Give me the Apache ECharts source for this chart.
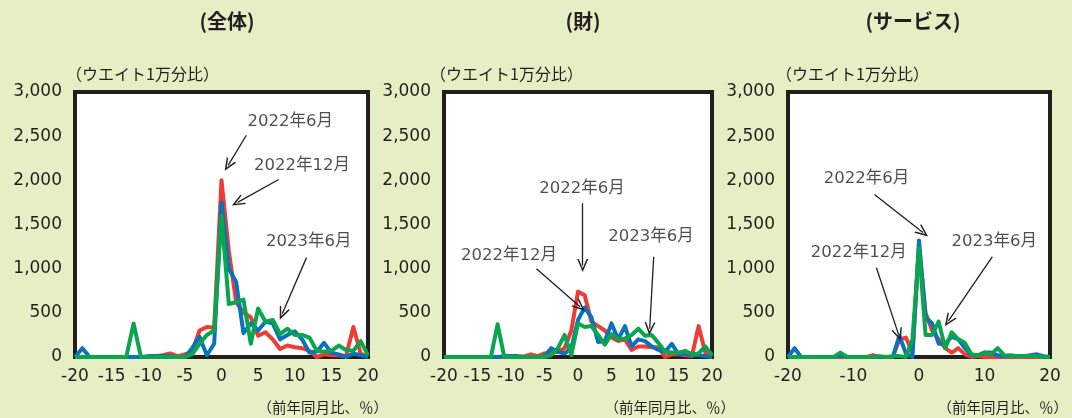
<!DOCTYPE html>
<html>
<head>
<meta charset="utf-8">
<script src="https://cdn.jsdelivr.net/npm/echarts@6/dist/echarts.min.js"></script>
<style>
  html, body { margin: 0; padding: 0; background: #e6efc4; }
  #main { width: 1072px; height: 418px; }
</style>
</head>
<body>
<div id="main"></div>
<script>
// 前年同月比（%）
var xs = [-20,-19,-18,-17,-16,-15,-14,-13,-12,-11,-10,-9,-8,-7,-6,-5,-4,-3,-2,-1,0,
          1,2,3,4,5,6,7,8,9,10,11,12,13,14,15,16,17,18,19,20];

// 全体
var allJun22 = [0,0,0,0,0,0,0,0,0,0,0,10,20,40,10,30,60,300,340,330,2000,
                1200,620,500,450,240,280,200,90,130,110,100,70,0,30,20,20,10,340,40,0];
var allDec22 = [0,100,0,0,0,0,0,0,0,0,10,10,10,10,0,0,100,230,20,150,1750,
                1000,850,270,380,300,400,380,200,250,290,200,50,60,160,50,30,0,40,20,0];
var allJun23 = [0,0,0,0,0,0,0,0,380,0,0,0,0,0,0,0,30,150,250,300,1600,
                600,620,650,150,550,400,420,260,320,250,250,220,70,60,70,130,80,70,180,20];
// 財
var goodsJun22 = [0,0,0,0,0,0,0,0,0,0,0,0,10,30,10,40,50,60,100,300,740,
                  700,400,350,300,220,180,200,80,120,120,110,110,0,30,30,20,10,350,50,0];
var goodsDec22 = [0,0,0,0,0,0,0,0,0,10,10,10,0,0,0,10,100,60,40,100,420,
                  560,450,170,180,380,200,350,120,200,180,120,80,60,150,30,40,20,20,10,0];
var goodsJun23 = [0,0,0,0,0,0,0,0,370,0,0,0,0,0,0,0,20,100,250,20,380,
                  340,350,250,140,260,200,210,250,320,240,250,160,60,50,50,70,30,40,120,20];
// サービス
var servJun22 = [0,0,0,0,0,0,0,0,0,0,0,0,0,20,0,0,0,200,220,50,1250,
                 500,300,200,100,50,100,30,0,10,0,0,0,0,0,0,0,0,0,0,0];
var servDec22 = [0,100,0,0,0,0,0,0,20,0,0,0,0,0,0,0,0,240,40,0,1320,
                 450,380,150,150,230,200,100,20,20,50,50,20,10,20,10,10,20,30,10,0];
var servJun23 = [0,0,0,0,0,0,0,0,50,0,0,0,0,0,10,0,10,10,0,200,1230,
                 250,250,400,100,280,200,160,30,20,50,30,100,20,10,10,10,10,10,0,0];

var yTicks = [0, 500, 1000, 1500, 2000, 2500, 3000];

// 注記（テキスト位置と矢印はデータ座標）
var notes = [
  [ {t:'2022年6月',  p:[9.4, 2660], a:[[3.4, 2510],[0.9, 2170]]},
    {t:'2022年12月', p:[11.0, 2170], a:[[7.8, 2010],[2.2, 1750]]},
    {t:'2023年6月',  p:[11.9, 1300], a:[[11.6, 1125],[8.3, 490]]} ],
  [ {t:'2022年6月',  p:[0.6, 1900], a:[[0.7, 1740],[0.7, 1035]]},
    {t:'2022年12月', p:[-10.3, 1150], a:[[-6.2, 1000],[0.3, 570]]},
    {t:'2023年6月',  p:[10.9, 1360], a:[[11.3, 1135],[10.7, 320]]} ],
  [ {t:'2022年6月',  p:[-8.0, 2020], a:[[-6.8, 1840],[0.6, 1410]]},
    {t:'2022年12月', p:[-9.2, 1180], a:[[-6.5, 1010],[-3.1, 250]]},
    {t:'2023年6月',  p:[11.5, 1300], a:[[11.2, 1135],[4.5, 410]]} ]
];

var panels = [
  {title:'(全体)', cx:227, grid:{left:75, right:704}, step:5, lines:[allJun22, allDec22, allJun23], sub:66, unit:388},
  {title:'(財)', cx:583, grid:{left:444, right:360}, step:5, lines:[goodsJun22, goodsDec22, goodsJun23], sub:430, unit:735},
  {title:'(サービス)', cx:913, grid:{left:788, right:22}, step:10, lines:[servJun22, servDec22, servJun23], sub:776, unit:1068}
];

var colors = ['#ee3b33', '#0a72bd', '#0aa64e'];
var ink = '#231f20';
var font = '"Noto Sans CJK JP", "Noto Sans", sans-serif';
var numFont = '"DejaVu Sans", "Noto Sans CJK JP", sans-serif';
var arrowHead = 'path://M5,0 L10,12 L8.6,12 L5,3.6 L1.4,12 L0,12 Z';

var grids = [], xAxes = [], yAxes = [], series = [], graphics = [];

panels.forEach(function (pn, i) {
  grids.push({
    left: pn.grid.left, right: pn.grid.right, top: 92, bottom: 61,
    show: true, backgroundColor: '#ffffff', borderColor: ink, borderWidth: 4
  });
  xAxes.push({
    gridIndex: i, type: 'value', min: -20, max: 20, interval: pn.step,
    axisLine: {show: false}, axisTick: {show: false}, splitLine: {show: false},
    axisLabel: {color: ink, fontSize: 17, margin: 11, fontFamily: numFont}
  });
  yAxes.push({
    gridIndex: i, type: 'value', min: yTicks[0], max: yTicks[yTicks.length - 1], interval: 500,
    axisLine: {show: false}, axisTick: {show: false}, splitLine: {show: false},
    axisLabel: {color: ink, fontSize: 17, margin: 13, fontFamily: numFont}
  });
  pn.lines.forEach(function (vals, k) {
    series.push({
      type: 'line', xAxisIndex: i, yAxisIndex: i,
      data: xs.map(function (x, j) { return [x, vals[j]]; }),
      symbol: 'none', smooth: false, animation: false,
      lineStyle: {color: colors[k], width: 4, join: 'round'}
    });
  });
  // 注記
  series.push({
    type: 'scatter', xAxisIndex: i, yAxisIndex: i, symbolSize: 0, silent: true, animation: false,
    data: notes[i].map(function (n) { return {name: n.t, value: n.p}; }),
    label: {show: true, position: 'inside', formatter: '{b}', color: ink, fontSize: 16.5, fontFamily: numFont},
    markLine: {
      silent: true, animation: false,
      symbol: ['none', arrowHead], symbolSize: [11, 13],
      lineStyle: {color: ink, width: 1.3, type: 'solid'},
      label: {show: false},
      data: notes[i].map(function (n) {
        return [{coord: n.a[0]}, {coord: n.a[1]}];
      })
    }
  });
  graphics.push({
    type: 'text', x: pn.cx, y: 21, style: {
      text: pn.title, fill: ink, font: 'bold 20px ' + font, textAlign: 'center', textVerticalAlign: 'middle'
    }
  });
  graphics.push({
    type: 'text', x: pn.sub, y: 74, style: {
      text: '（ウエイト1万分比）', fill: ink, font: '16px ' + font, textAlign: 'left', textVerticalAlign: 'middle'
    }
  });
  graphics.push({
    type: 'text', x: pn.unit, y: 407, style: {
      text: '（前年同月比、％）', fill: ink, font: '14.5px ' + font, textAlign: 'right', textVerticalAlign: 'middle'
    }
  });
});

var chart = echarts.init(document.getElementById('main'));
chart.setOption({
  backgroundColor: '#e6efc4',
  animation: false,
  grid: grids,
  xAxis: xAxes,
  yAxis: yAxes,
  series: series,
  graphic: graphics
});
</script>
</body>
</html>
